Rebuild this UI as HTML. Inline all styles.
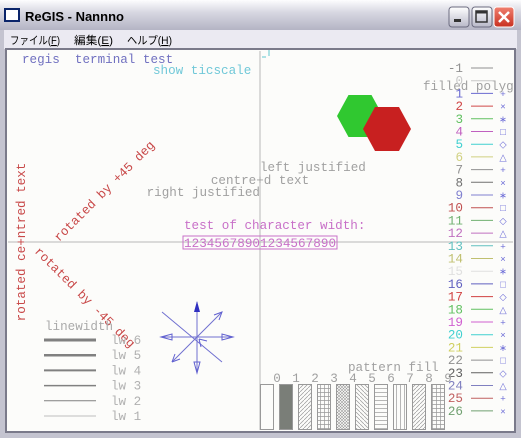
<!DOCTYPE html>
<html><head><meta charset="utf-8">
<style>
html,body{margin:0;padding:0;width:521px;height:438px;overflow:hidden;background:#c0c0c8;}
svg text{font-family:"Liberation Mono",monospace;white-space:pre;}
</style></head>
<body>
<svg id="win" width="521" height="438" xmlns="http://www.w3.org/2000/svg">
<defs>
<linearGradient id="tb" x1="0" y1="0" x2="0" y2="1">
<stop offset="0" stop-color="#fdfdfe"/><stop offset="0.4" stop-color="#d8d8e2"/><stop offset="1" stop-color="#b4b4c4"/></linearGradient>
<linearGradient id="cb" x1="0" y1="0" x2="0" y2="1"><stop offset="0" stop-color="#f08070"/><stop offset="1" stop-color="#c83020"/></linearGradient>
<linearGradient id="bb" x1="0" y1="0" x2="0" y2="1"><stop offset="0" stop-color="#fff"/><stop offset="1" stop-color="#b8b8c8"/></linearGradient>
<pattern id="p1" width="4" height="4" patternUnits="userSpaceOnUse"><path d="M0,4 L4,0" stroke="#999" stroke-width="0.7"/></pattern>
<pattern id="p2" width="4" height="4" patternUnits="userSpaceOnUse"><path d="M0,0.5 H4 M0.5,0 V4" stroke="#999" stroke-width="0.7"/></pattern>
<pattern id="p3" width="3" height="3" patternUnits="userSpaceOnUse"><path d="M0,3 L3,0 M0,0 L3,3" stroke="#999" stroke-width="0.6"/></pattern>
<pattern id="p4" width="4" height="4" patternUnits="userSpaceOnUse"><path d="M0,0 L4,4" stroke="#999" stroke-width="0.7"/></pattern>
<pattern id="p5" width="4" height="4" patternUnits="userSpaceOnUse"><path d="M0,0.5 H4" stroke="#999" stroke-width="0.7"/></pattern>
<pattern id="p6" width="4" height="4" patternUnits="userSpaceOnUse"><path d="M0.5,0 V4" stroke="#999" stroke-width="0.7"/></pattern>
</defs>
<rect x="0" y="0" width="521" height="438" fill="#c4c4d0"/>
<rect x="0" y="0" width="521" height="30" fill="url(#tb)"/>
<rect x="5" y="9" width="14" height="12" fill="#fff" stroke="#0a246a" stroke-width="2"/>
<text x="25" y="21" style="font-family:'Liberation Sans',sans-serif" font-size="13" font-weight="bold" fill="#000">ReGIS - Nannno</text>
<g><rect x="449" y="7" width="20" height="20" rx="3" fill="url(#bb)" stroke="#6c6c80"/><rect x="454" y="19" width="7" height="3" fill="#333"/></g>
<g><rect x="472" y="7" width="20" height="20" rx="3" fill="url(#bb)" stroke="#6c6c80"/><rect x="476" y="11" width="11" height="11" fill="none" stroke="#333" stroke-width="1.5"/><rect x="476" y="11" width="11" height="2.5" fill="#333"/></g>
<g><rect x="494" y="7" width="20" height="20" rx="3" fill="url(#cb)" stroke="#fff"/><path d="M499,12 L509,22 M509,12 L499,22" stroke="#fff" stroke-width="2.5"/></g>
<rect x="4" y="30" width="513" height="19" fill="#ebeaf2"/>
<text x="10" y="44" font-size="11" textLength="50" lengthAdjust="spacingAndGlyphs" style="font-family:'Liberation Sans','Noto Sans CJK JP',sans-serif">ファイル(<tspan text-decoration="underline">F</tspan>)</text>
<text x="74" y="44" font-size="11" textLength="39" lengthAdjust="spacingAndGlyphs" style="font-family:'Liberation Sans','Noto Sans CJK JP',sans-serif">編集(<tspan text-decoration="underline">E</tspan>)</text>
<text x="127" y="44" font-size="11" textLength="45" lengthAdjust="spacingAndGlyphs" style="font-family:'Liberation Sans','Noto Sans CJK JP',sans-serif">ヘルプ(<tspan text-decoration="underline">H</tspan>)</text>
<rect x="6" y="49" width="509" height="383" fill="#fcfcfa" stroke="#7a7a8a" stroke-width="2"/>
<rect x="8" y="51" width="505" height="379" fill="#fcfcfa"/>
<g id="plot"></g>
</svg>
<script>
const legendLabels=["-1","0","1","2","3","4","5","6","7","8","9","10","11","12","13","14","15","16","17","18","19","20","21","22","23","24","25","26"];
const legendColors=["#909090","#c8c8c8","#6a6ad0","#d04848","#60c060","#c060c0","#40d0d0","#d0d080","#909090","#707070","#8080d0","#c05050","#70b070","#c070c0","#60c0c0","#c0c070","#e0e0e0","#6060c0","#d04040","#60c060","#d060d0","#40d0d0","#d0d060","#909090","#606060","#8080c0","#c06060","#70a070"];
const pointGlyphs=["","","+","×","∗","□","◇","△"];
const lineWidths=[6,5,4,3,2,1];
const patternFills=["#fcfcfa","#7a7e78","url(#p1)","url(#p2)","url(#p3)","url(#p4)","url(#p5)","url(#p6)","url(#p1)","url(#p2)"];
const NS="http://www.w3.org/2000/svg";
const plot=document.getElementById('plot');
function el(tag,attrs,txt){const e=document.createElementNS(NS,tag);for(const k in attrs)e.setAttribute(k,attrs[k]);if(txt!==undefined)e.textContent=txt;plot.appendChild(e);return e;}
let a=el('line',{x1:260,y1:51,x2:260,y2:430,stroke:"#b8b8b8","stroke-width":1});


a=el('line',{x1:8,y1:242,x2:513,y2:242,stroke:"#b8b8b8","stroke-width":1});


const fs=12.6;
let t=el('text',{x:22,y:63,"font-size":fs,fill:"#7070c0"},"regis  terminal test");


t=el('text',{x:153,y:74,"font-size":fs,fill:"#70c8d8"},"show ticscale");


el('path',{d:"M262,57 h4 M269,50 v6",stroke:"#60c8d0","stroke-width":1,fill:"none"});
t=el('text',{x:260,y:171,"font-size":fs,fill:"#a0a0a0"},"left justified");


t=el('text',{x:260,y:184,"font-size":fs,fill:"#a0a0a0","text-anchor":"middle"},"centre+d text");


t=el('text',{x:260,y:196,"font-size":fs,fill:"#a0a0a0","text-anchor":"end"},"right justified");


t=el('text',{x:184,y:229,"font-size":fs,fill:"#c870c8"},"test of character width:");


t=el('text',{x:184,y:247,"font-size":fs,fill:"#c870c8",textLength:152,lengthAdjust:"spacing"},"12345678901234567890");


el('rect',{x:183,y:236,width:154,height:13,fill:"none",stroke:"#c870c8"});
t=el('text',{x:0,y:0,"font-size":fs,fill:"#c84848","text-anchor":"middle",transform:"translate(25,242) rotate(-90)"},"rotated ce+ntred text");


t=el('text',{x:0,y:0,"font-size":fs,fill:"#c84848",transform:"translate(59,242) rotate(-45)"},"rotated by +45 deg");


t=el('text',{x:0,y:0,"font-size":fs,fill:"#c84848",transform:"translate(34,252) rotate(45)"},"rotated by -45 deg");


t=el('text',{x:423,y:90,"font-size":fs,fill:"#a0a0a0"},"filled polyg");


function hex(cx,cy,rx,ry,fill,name){const p=[[cx-rx,cy],[cx-rx/2,cy-ry],[cx+rx/2,cy-ry],[cx+rx,cy],[cx+rx/2,cy+ry],[cx-rx/2,cy+ry]].map(q=>q.join(',')).join(' ');const h=el('polygon',{points:p,fill:fill});}
hex(360,116,23,21,"#30c830","green-hexagon");
hex(387,129,24,22,"#c82020","red-hexagon");
legendLabels.forEach((lab,i)=>{
  const y=68+i*12.7;
  const g=document.createElementNS(NS,'g');plot.appendChild(g);
  
  
  const tx=document.createElementNS(NS,'text');
  tx.setAttribute('x',463);tx.setAttribute('y',y+4);tx.setAttribute('font-size',fs);tx.setAttribute('text-anchor','end');tx.setAttribute('fill',legendColors[i]);tx.textContent=lab;g.appendChild(tx);
  const ln=document.createElementNS(NS,'line');
  ln.setAttribute('x1',471);ln.setAttribute('x2',493);ln.setAttribute('y1',y);ln.setAttribute('y2',y);ln.setAttribute('stroke',legendColors[i]);g.appendChild(ln);
  if(i>=2){const p=document.createElementNS(NS,'text');p.setAttribute('x',503);p.setAttribute('y',y+3.5);p.setAttribute('font-size',9.5);p.setAttribute('text-anchor','middle');p.setAttribute('fill','#7070d8');p.textContent=pointGlyphs[2+((i-2)%6)];g.appendChild(p);}
});
t=el('text',{x:45,y:330,"font-size":fs,fill:"#aaa"},"linewidth");


lineWidths.forEach((w,i)=>{
  const y=340+i*15.2;
  const l=el('line',{x1:44,x2:96,y1:y,y2:y,stroke:"#808080","stroke-width":w*0.5});
  
  
  const tt=el('text',{x:111,y:y+4,"font-size":fs,fill:"#b0b0b0"},"lw "+w);
  
  
});
const cx=197,cy=337,col="#6060d0";
el('path',{d:`M${cx},${cy} V302 M${cx},${cy} V372 M${cx},${cy} H162 M${cx},${cy} H232 M${cx},${cy} L222,312 M${cx},${cy} L172,362 M162,312 L222,362`,stroke:"#7070d0","stroke-width":1,fill:"none"});
el('polygon',{points:"197,301 194,312 200,312",fill:"#3030c0"});
el('polygon',{points:"197,373 194,362 200,362",fill:"none",stroke:col});
el('polygon',{points:"161,337 172,334 172,340",fill:"none",stroke:col});
el('polygon',{points:"233,337 222,334 222,340",fill:"none",stroke:col});
el('path',{d:"M214,315 L222,312 L219,320 M172,362 L175,354 M172,362 L180,359",fill:"none",stroke:col});
el('path',{d:"M199,339 L201,347 M199,339 L207,341",fill:"none",stroke:col});
t=el('text',{x:348,y:371,"font-size":fs,fill:"#a0a0a0"},"pattern fill");


patternFills.forEach((f,i)=>{
  const x=260+i*19;
  const r=el('rect',{x:x+0.5,y:384.5,width:13,height:45,fill:f,stroke:"#999"});
  
  
  const lt=el('text',{x:x+17,y:382,"font-size":fs,fill:"#a0a0a0","text-anchor":"middle"},String(i));
  
  
});
</script>
</body></html>
